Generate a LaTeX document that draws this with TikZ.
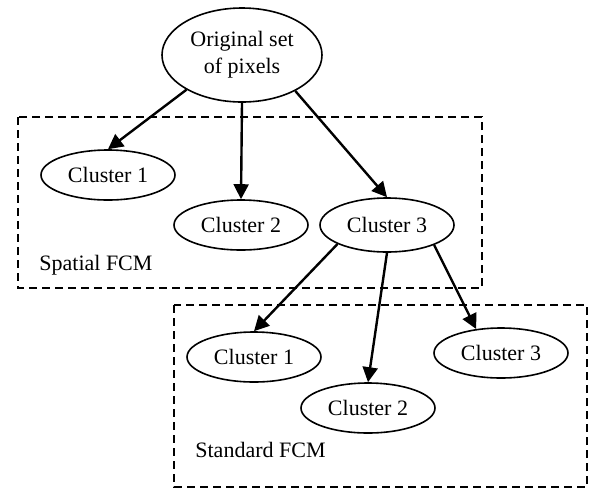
\documentclass[tikz,border=0pt]{standalone}
\usepackage{fontspec}
\setmainfont{Liberation Serif}
\usetikzlibrary{shapes.geometric,arrows.meta}
\begin{document}
\begin{tikzpicture}[x=0.5pt,y=-0.5pt,
  ell/.style={ellipse,draw,line width=0.8pt,minimum width=67pt,minimum height=25pt,inner sep=0pt,font=\fontsize{11pt}{13.5pt}\selectfont},
  arr/.style={line width=1.2pt,-{Triangle[length=7.5pt,width=7.5pt]}},
  grp/.style={draw,line width=0.75pt,dash pattern=on 4pt off 2.5pt},
  lbl/.style={anchor=west,inner sep=0pt,font=\fontsize{11pt}{13.5pt}\selectfont}]
\useasboundingbox (0,0) rectangle (589,489);
\draw[grp] (18,117) rectangle (482,288);
\draw[grp] (174,305) rectangle (587,487);
\node[ell,minimum width=80pt,minimum height=47pt,align=center] (orig) at (242,55) {Original set\\of pixels};
\node[ell] (a1) at (108,175) {Cluster 1};
\node[ell] (a2) at (241,225) {Cluster 2};
\node[ell,minimum height=27pt] (a3) at (387,225) {Cluster 3};
\node[ell] (b1) at (254,357) {Cluster 1};
\node[ell] (b2) at (368,408) {Cluster 2};
\node[ell] (b3) at (501,353) {Cluster 3};
\node[lbl] (sp) at (39,265) {Spatial FCM};
\node[lbl] (st) at (195,450) {Standard FCM};
\draw[arr] (orig.212) -- (a1.north);
\draw[arr] (orig.south) -- (a2.north);
\draw[arr] (orig.326) -- (a3.north);
\draw[arr] (a3.201) -- (b1.north);
\draw[arr] (a3.south) -- (b2.north);
\draw[arr] (a3.337) -- (b3.136);
\end{tikzpicture}
\end{document}
